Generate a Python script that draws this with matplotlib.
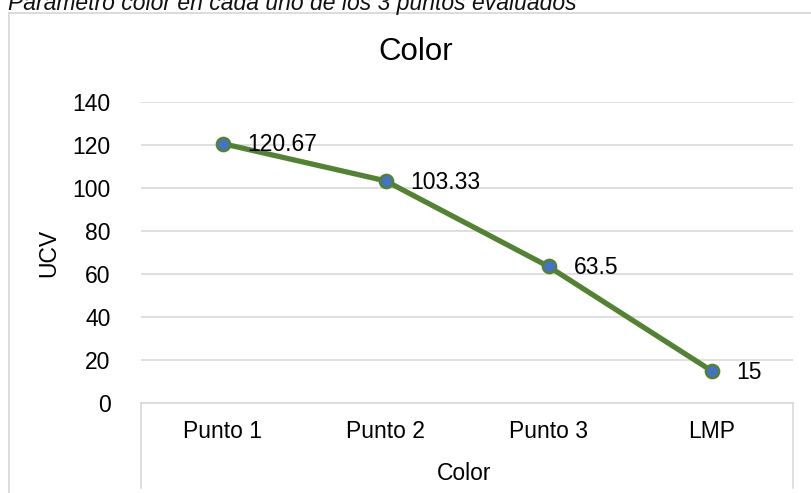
import matplotlib
matplotlib.use("Agg")
import matplotlib.pyplot as plt
from matplotlib.lines import Line2D

categories = ["Punto 1", "Punto 2", "Punto 3", "LMP"]
values = [120.67, 103.33, 63.5, 15]
value_labels = ["120.67", "103.33", "63.5", "15"]
yticks = [0, 20, 40, 60, 80, 100, 120, 140]

plt.rcParams["font.family"] = ["Liberation Sans", "DejaVu Sans"]

W, H = 811, 493
fig = plt.figure(figsize=(W / 100, H / 100), dpi=100)

def fx(px):
    return px / W

def fy(py):
    return 1 - py / H

grid_c = "#d9d9d9"
line_c = "#548235"
marker_c = "#4472c4"

# outer chart frame (extends past the right and bottom edges)
fig.add_artist(Line2D([fx(8.5), fx(8.5)], [fy(12.5), fy(500)], color=grid_c, lw=1.3))
fig.add_artist(Line2D([fx(8.5), fx(820)], [fy(12.5), fy(12.5)], color=grid_c, lw=1.3))

# caption above the chart frame
fig.text(fx(8), fy(10), "Parámetro color en cada uno de los 3 puntos evaluados",
         fontsize=16.5, style="italic", ha="left", va="baseline", color="#111111")

left, right, top, bottom = 141, 793, 102, 403
ax = fig.add_axes([fx(left), fy(bottom), fx(right) - fx(left), fy(top) - fy(bottom)])

x = list(range(len(categories)))
ax.plot(x, values, color=line_c, lw=3.8, marker="o", markersize=9.5,
        markerfacecolor=marker_c, markeredgecolor=line_c, markeredgewidth=1.8,
        solid_capstyle="round", zorder=3, clip_on=False)

for xi, v, lab in zip(x, values, value_labels):
    ax.annotate(lab, (xi, v), xytext=(18, -1), textcoords="offset points",
                ha="left", va="center", fontsize=16.5, color="#000000")

ax.set_xlim(-0.5, len(categories) - 0.5)
ax.set_ylim(0, 140)
ax.set_yticks(yticks)
ax.set_yticklabels([str(t) for t in yticks], fontsize=16.5)
ax.yaxis.grid(True, color=grid_c, lw=1.2)
ax.set_axisbelow(True)
ax.tick_params(axis="y", length=0, pad=22)
ax.set_xticks([])
for s in ["top", "right", "left"]:
    ax.spines[s].set_visible(False)
ax.spines["bottom"].set_color(grid_c)
ax.spines["bottom"].set_linewidth(1.2)

ax.set_ylabel("UCV", fontsize=16.5)
ax.yaxis.set_label_coords((60 - left) / (right - left), 0.5)

# multi-level category box below the axis
box_bottom = 488
fig.add_artist(Line2D([fx(left), fx(left)], [fy(bottom), fy(box_bottom)], color=grid_c, lw=1.2))
fig.add_artist(Line2D([fx(right), fx(right)], [fy(bottom), fy(box_bottom)], color=grid_c, lw=1.2))

for xi, cat in zip(x, categories):
    xp = left + (xi + 0.5) / len(categories) * (right - left)
    fig.text(fx(xp), fy(432), cat, ha="center", va="center", fontsize=16.5)

fig.text(fx((left + right) / 2 - 3), fy(474), "Color", ha="center", va="center", fontsize=16.5)

fig.text(fx(416), fy(52), "Color", ha="center", va="center", fontsize=22.5)

fig.savefig("out.png", dpi=100, facecolor="white")
